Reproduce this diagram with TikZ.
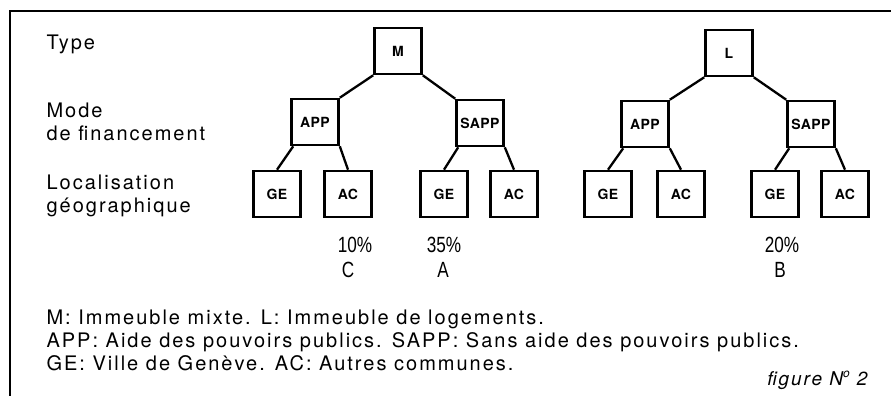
\documentclass[tikz,border=0pt]{standalone}
\usepackage{fontspec}
\setmainfont{TeX Gyre Heros}[LetterSpace=10]
\newfontfamily\boxfont{TeX Gyre Heros}[LetterSpace=3]
\newfontfamily\tauxfont{Liberation Sans}[FakeStretch=0.78]

\tikzset{
  bloc/.style={draw, line width=2.6pt, minimum width=47pt, minimum height=46pt,
    inner sep=0pt, font=\boxfont\fontsize{14}{15}\selectfont\bfseries},
  branche/.style={line width=2.3pt},
  niveau/.style={anchor=base west, align=left, font=\fontsize{20}{23}\selectfont},
  taux/.style={anchor=base, font=\tauxfont\fontsize{22}{24}\selectfont},
  cadre/.style={line width=1.4pt}
}

\begin{document}
\begin{tikzpicture}[x=1pt, y=-1pt]

            \useasboundingbox (0,0) rectangle (891,396);

            \coordinate (coin) at (10,11);
            \coordinate (haut) at (891,11);
            \coordinate (bas) at (10,396);
            \draw[cadre] (haut) -- (coin) -- (bas);

            % niveaux (base = derniere ligne)
            \node[niveau] (type) at (43,50) {Type};
            \node[niveau] (mode) at (43,140) {Mode\\de financement};
            \node[niveau] (loca) at (43,212) {Localisation\\géographique};

            % arbre M
            \node[bloc] (m) at (398,51) {M};
            \node[bloc] (app1) at (315,122) {APP};
            \node[bloc] (sapp1) at (480,123) {SAPP};
            \node[bloc] (ge1) at (277,194) {GE};
            \node[bloc] (ac1) at (348,194) {AC};
            \node[bloc] (ge2) at (444,194) {GE};
            \node[bloc] (ac2) at (514,194) {AC};

            \draw[branche] (m.south west) -- (app1.north east);
            \draw[branche] (m.south east) -- (sapp1.north west);
            \draw[branche] (app1.south west) ++(3,0) -- (ge1.north);
            \draw[branche] (app1.south east) -- (ac1.north);
            \draw[branche] (sapp1.south west) ++(3,0) -- (ge2.north);
            \draw[branche] (sapp1.south east) -- (ac2.north);

            % arbre L
            \node[bloc] (l) at (729,53) {L};
            \node[bloc] (app2) at (645,124) {APP};
            \node[bloc] (sapp2) at (811,124) {SAPP};
            \node[bloc] (ge3) at (608,194) {GE};
            \node[bloc] (ac3) at (681,194) {AC};
            \node[bloc] (ge4) at (775,194) {GE};
            \node[bloc] (ac4) at (845,194) {AC};

            \draw[branche] (l.south west) -- (app2.north east);
            \draw[branche] (l.south east) -- (sapp2.north west);
            \draw[branche] (app2.south west) ++(3,0) -- (ge3.north);
            \draw[branche] (app2.south east) -- (ac3.north);
            \draw[branche] (sapp2.south west) ++(3,0) -- (ge4.north);
            \draw[branche] (sapp2.south east) -- (ac4.north);

            % pourcentages
            \node[taux] (p10) at (355,252) {10\%};
            \node[taux] (c) at (348,277) {C};
            \node[taux] (p35) at (444,252) {35\%};
            \node[taux] (a) at (443,277) {A};
            \node[taux] (p20) at (782,252) {20\%};
            \node[taux] (b) at (780,277) {B};

            % legende
            \node[niveau] (leg) at (43,370) {M: Immeuble mixte. L: Immeuble de logements.\\
              APP: Aide des pouvoirs publics. SAPP: Sans aide des pouvoirs publics.\\
              GE: Ville de Genève. AC: Autres communes.};

            \node[anchor=base east, font=\fontsize{19}{22}\selectfont\itshape] (fig) at (871,385)
              {figure N\raisebox{0.4em}{\fontsize{12}{12}\selectfont o} 2};
        \end{tikzpicture}
\end{document}
